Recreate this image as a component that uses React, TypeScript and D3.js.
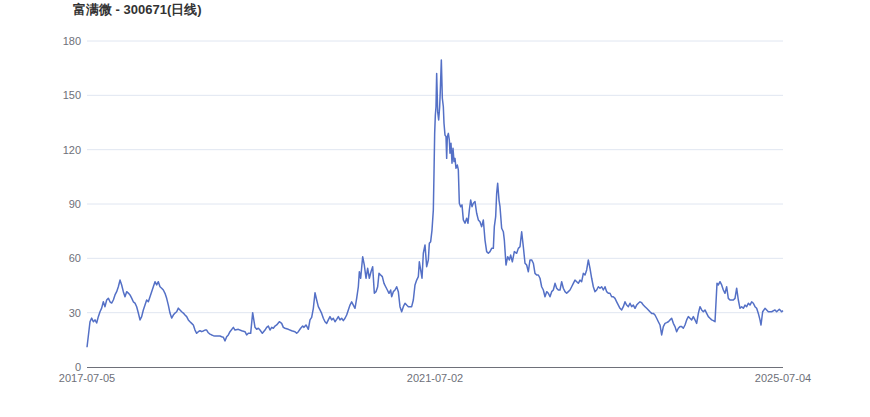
import React from "react";
import * as d3 from "d3";

const TITLE = "富满微 - 300671(日线)";
const LAST_DAY = 2088; // trading-day index of the last close
const dateLabels: [number, string][] = [
  [0, "2017-07-05"],
  [1044, "2021-07-02"],
  [2088, "2025-07-04"],
];
const yTicks = [0, 30, 60, 90, 120, 150, 180];

// [trading-day index, close]
const closes2017: [number, number][] = [
  [0,10.9],[9,25],[14,27],[19,25],[24,26],[29,24.3],[34,27.8],[39,30.5],[44,32.5],[49,36],[54,33.3],[59,37],[64,38],[69,36],[74,35.3],[79,37],[84,39.8],[89,41.6],[94,44.3],[99,48],[104,45.3],[109,41.6],[114,38.8],[119,41.6],[124,40.8],[129,39.8],[134,38],[139,36],[144,35.3],[149,33.3],[154,29.8],[159,26],[164,27.8],[169,31.5],[174,34.2],[179,37],[184,36],[189,38.8],[194,41.6],[199,44.3],[204,47.1],[209,45.3],[214,47.1],[219,44.3],[224,43.5],[229,42.5],[234,40.7],[239,37.9],[244,34.2],[249,29.8],[254,27],[259,28.7],[264,29.8],[269,30.5],[274,32.5],[279,31.5],[284,30.5],[289,29.8],[294,28.7],[299,27.8],[304,26],[309,25],[314,24.1],[319,23.2],[324,20.4],[329,18.6],[334,19.5],[339,20],[344,19.5],[349,19.9],[354,20.4],[359,20.4],[364,18.9],[369,18.2],[374,17.7],[379,17.3],[384,17.1],[389,17.1],[394,17.1],[399,17.1],[404,16.7],[409,16.4],[414,14.4],[419,16.7],[424,17.7],[429,19.5],
];
const closes2019: [number, number][] = [
  [439,21.9],[444,20.4],[454,20.8],[464,20],[474,19.5],[479,17.7],[484,18.6],[491,18.6],[497,30],[504,21.9],[509,20.8],[514,21.4],[519,20.4],[526,18.6],[534,20.4],[539,21.9],[544,22.6],[549,20.4],[554,21.9],[559,21.4],[564,22.6],[569,23.2],[577,25],[584,24.1],[589,21.9],[594,21.4],[604,20.8],[614,20],[624,19.5],[629,18.6],[634,19.5],[641,21.4],[647,22.6],[651,21.9],[657,23.2],[661,21.9],[664,20.8],[669,26],[674,27.4],[679,32.4],[684,41],[689,37],[694,33.3],[699,31.5],[704,29.6],[709,26.9],[714,25],[719,24.1],[724,26],[729,27.8],[734,26],[739,26.9],[744,25],[749,26.3],[754,27.8],[759,26],[764,26.9],[769,25.6],[774,26.9],[779,28.7],[784,31.5],[789,34.2],[794,36],[799,34.2],[804,32.4],[809,37.9],[814,44.3],[817,52.6],[821,49],[827,60.9],[832,56.3],[837,49],[842,54.5],[847,49],[852,52.6],[857,55.4],[862,40.7],[867,41.6],[872,44.3],[876,51.7],[881,50.8],[886,49.9],[891,46.2],[896,44.3],[901,42.5],[906,40.7],[911,42.5],[914,38.8],[919,41.6],[924,42.5],[929,44.3],[934,41.6],[939,33.3],[944,30.5],[949,33.3],[954,35.2],[959,34.2],[964,33.3],[974,33.3],
];
const closes2021: [number, number][] = [
  [979,37],[984,45.3],[989,48],[994,49.9],[997,58.1],[1001,53.6],[1005,49],[1009,62.8],[1014,67.4],[1019,55.4],[1024,59.1],[1027,68.3],[1031,69.2],[1035,75.6],[1039,86.7],[1041,107],[1043,129],[1045,139],[1047,143.7],[1049,162],[1052,141],[1055,136.4],[1058,143.7],[1060,153],[1063,169.5],[1066,148.4],[1069,143.7],[1071,134.6],[1074,128],[1077,127.2],[1079,115.2],[1081,127.2],[1084,129],[1087,125.3],[1089,118],[1092,123.5],[1095,112.5],[1098,120.8],[1101,113.4],[1104,115.2],[1107,109.7],[1111,111.5],[1114,108.8],[1117,90.4],[1121,88.5],[1125,89.5],[1129,81.2],[1134,79.4],[1139,82.1],[1143,79.4],[1147,86.7],[1151,92.2],[1155,88.5],[1159,90.4],[1164,91.3],[1169,84.9],[1174,81.2],[1179,80.2],[1184,77.5],[1189,81.2],[1194,70.1],[1199,63.7],[1204,62.8],[1209,63.7],[1214,65.5],[1219,65.5],[1222,77.5],[1226,83],[1229,95.9],[1232,101.4],[1236,92.2],[1239,88.5],[1244,76.6],[1249,74.7],[1252,70.1],[1257,56.3],[1262,60.9],[1267,59.1],[1271,61.8],[1276,58.1],[1282,63.7],[1289,62.8],[1294,65.5],[1299,66.4],[1304,74.7],[1309,66.4],[1314,57.3],[1319,56.3],[1324,52.6],[1329,59.1],[1334,59.1],[1339,57.3],[1344,51.7],[1349,50.8],[1354,50.8],[1359,49],[1364,44.3],[1369,42.5],
];
const closes2023: [number, number][] = [
  [1374,38.8],[1379,41.6],[1384,40.7],[1389,38.8],[1394,41.6],[1399,42.5],[1404,46.2],[1409,43.5],[1414,42.5],[1419,42.5],
  [1424,47.1],[1429,43.5],[1434,41.6],[1439,40.7],[1444,41.6],[1449,42.5],[1454,44.3],[1459,46.2],[1464,48],[1469,47.1],
  [1474,46.2],[1479,48],[1484,47.1],[1489,51.7],[1494,50.8],[1499,53.6],[1504,59.1],[1509,54.5],[1514,49],[1519,44.3],
  [1524,41.6],[1529,42.5],[1534,44.3],[1539,43.5],[1544,44.3],[1549,42.5],[1554,44.3],[1559,41.6],[1564,40.7],[1569,40.7],
  [1574,38.8],[1579,38.8],[1584,37.9],[1589,36],[1594,34.2],[1599,32.4],[1604,31.5],[1609,33.3],[1614,36],[1619,34.2],
  [1624,33.3],[1629,35.2],[1634,33.3],[1639,34.2],[1644,32.4],[1649,34.2],[1654,35.2],[1659,36],[1664,35.5],[1669,34.2],
  [1674,33.3],[1679,32.4],[1684,31.5],[1689,30.5],[1694,29.6],[1699,29.6],[1704,28.7],[1709,26.9],[1714,25],[1719,23.2],
  [1724,17.7],[1729,22.3],[1734,24.1],[1739,24.5],[1744,25],[1749,26],[1754,26.9],[1759,24.1],[1764,22.3],[1769,19.5],
  [1774,21.4],[1779,22.3],[1784,22.3],[1789,21.4],[1794,23.2],[1799,26],[1804,27.8],[1809,26.9],[1814,26],[1819,27.8],
  [1824,26],[1829,24.1],[1834,29.6],[1839,33.3],[1844,31.5],[1849,30.5],[1854,31.5],[1859,29.6],[1864,27.8],[1869,26.9],
  [1874,26],[1879,25.6],[1884,25],
];
const closes2024: [number, number][] = [
  [1890,46.2],[1894,45.3],[1899,47.1],[1904,45.3],[1909,42.5],[1914,40.7],[1919,44.3],[1924,37.9],[1929,37],[1934,37],[1939,37],[1944,37.9],[1949,43.5],[1954,37],[1959,32.4],[1964,33.3],[1969,32.4],[1974,34.2],[1979,33.3],[1984,35.2],[1989,34.2],[1994,36],[1999,35.2],[2004,33.3],[2009,32.4],[2014,29.6],[2019,26],[2022,23.2],[2027,30.5],[2034,32.4],[2044,30.5],[2054,30.5],[2064,31.5],[2069,30.5],[2077,31.9],[2084,30.5],[2088,31.1],
];

const W = 870;
const H = 417;
const LEFT = 87;
const RIGHT = 783;
const TOP = 41;
const BOTTOM = 367;

export default function App() {
  const data = [...closes2017, ...closes2019, ...closes2021, ...closes2023, ...closes2024];
  const x = d3.scaleLinear().domain([0, LAST_DAY]).range([LEFT, RIGHT]);
  const y = d3.scaleLinear().domain([0, 180]).range([BOTTOM, TOP]);
  const line = d3
    .line<[number, number]>()
    .x((d) => x(d[0]))
    .y((d) => y(d[1]));
  const font = "Liberation Sans, Arial, sans-serif";
  return (
    <svg
      width={W}
      height={H}
      style={{ position: "absolute", left: 0, top: 0, background: "#fff" }}
      fontFamily={font}
    >
      <text x={73} y={14} fontSize={13} fontWeight="bold" fill="#333">
        {TITLE}
      </text>
      {yTicks.map((t) => (
        <g key={t}>
          {t > 0 && (
            <line x1={LEFT} x2={RIGHT} y1={y(t)} y2={y(t)} stroke="#E0E6F1" strokeWidth={1} />
          )}
          <text x={81} y={y(t)} dy="0.35em" textAnchor="end" fontSize={11} fill="#6e7079">
            {t}
          </text>
        </g>
      ))}
      <line x1={LEFT} x2={RIGHT} y1={BOTTOM + 0.5} y2={BOTTOM + 0.5} stroke="#6e7079" strokeWidth={1} />
      {dateLabels.map(([d, s]) => (
        <text key={s} x={x(d)} y={382} textAnchor="middle" fontSize={11} fill="#6e7079">
          {s}
        </text>
      ))}
      <path d={line(data) || ""} fill="none" stroke="#5470c6" strokeWidth={1.5} strokeLinejoin="round" />
    </svg>
  );
}
